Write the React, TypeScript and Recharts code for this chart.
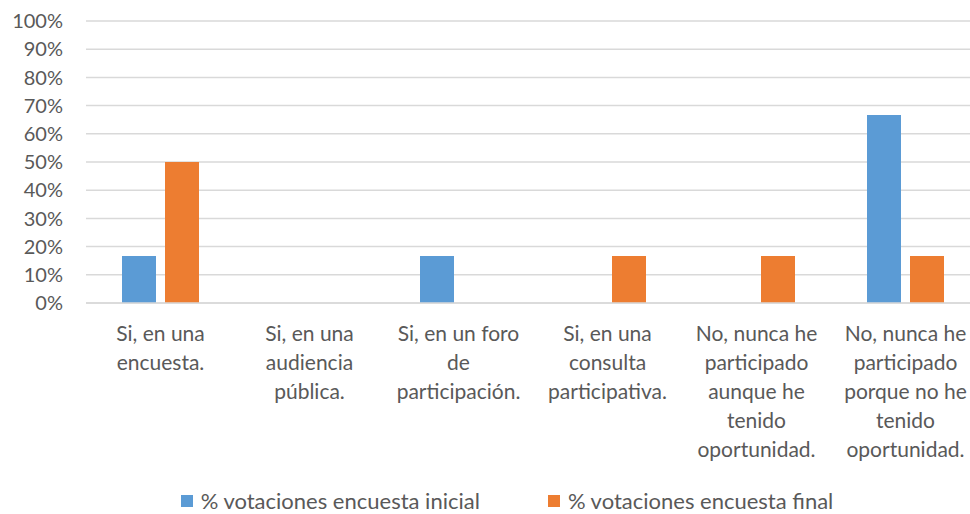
import { BarChart, Bar, XAxis, YAxis, CartesianGrid, Legend } from 'recharts'

const categories = [
  ['Si, en una', 'encuesta.'],
  ['Si, en una', 'audiencia', 'pública.'],
  ['Si, en un foro', 'de', 'participación.'],
  ['Si, en una', 'consulta', 'participativa.'],
  ['No, nunca he', 'participado', 'aunque he', 'tenido', 'oportunidad.'],
  ['No, nunca he', 'participado', 'porque no he', 'tenido', 'oportunidad.'],
]
const inicial = [16.67, 0, 16.67, 0, 0, 66.67]
const final = [50, 0, 0, 16.67, 16.67, 16.67]
const yTicks = [0, 10, 20, 30, 40, 50, 60, 70, 80, 90, 100]

const seriesNames = ['% votaciones encuesta inicial', '% votaciones encuesta final']
const colors = ['#5B9BD5', '#ED7D31']

const data = categories.map((lines, i) => ({
  name: lines.join(' '),
  inicial: inicial[i],
  final: final[i],
}))

const FONT = 'Lato, sans-serif'
const TEXT = '#595959'

function XTick({ x, y, payload, index }: any) {
  const lines = categories[index] ?? [payload.value]
  return (
    <text x={x} y={y + 30} textAnchor="middle" fill={TEXT} fontSize={21} fontFamily={FONT}>
      {lines.map((l: string, i: number) => (
        <tspan key={i} x={x} dy={i === 0 ? 0 : 29}>{l}</tspan>
      ))}
    </text>
  )
}

function LegendBox() {
  return (
    <div style={{ display: 'flex', justifyContent: 'center', gap: 68, height: 44, paddingTop: 18, boxSizing: 'border-box', fontFamily: FONT, fontSize: 22, color: TEXT, lineHeight: '22px', paddingLeft: 34 }}>
      {seriesNames.map((n, i) => (
        <div key={n} style={{ display: 'flex', alignItems: 'center' }}>
          <span style={{ width: 12, height: 12, background: colors[i], display: 'inline-block', marginRight: 8 }} />
          <span>{n}</span>
        </div>
      ))}
    </div>
  )
}

export default function App() {
  return (
    <div style={{ position: 'absolute', left: 0, top: 0, width: 970, height: 514, overflow: 'hidden', background: '#fff' }}>
      <BarChart
        width={980}
        height={514}
        data={data}
        margin={{ top: 21, right: 0, left: 0, bottom: 0 }}
        barCategoryGap="24.5%"
        barGap={9}
        style={{ fontFamily: FONT }}
      >
        <CartesianGrid vertical={false} stroke="#D9D9D9" strokeWidth={1.5} />
        <XAxis
          dataKey="name"
          height={167}
          interval={0}
          tick={<XTick />}
          tickLine={false}
          axisLine={{ stroke: '#D9D9D9', strokeWidth: 1.5 }}
        />
        <YAxis
          width={86}
          domain={[0, 100]}
          ticks={yTicks}
          interval={0}
          tickFormatter={(v: number) => `${v}%`}
          tick={{ fill: TEXT, fontSize: 20, fontFamily: FONT }}
          tickLine={false}
          axisLine={false}
          tickSize={0}
          tickMargin={23}
        />
        <Legend verticalAlign="bottom" height={44} content={<LegendBox />} />
        <Bar dataKey="inicial" name={seriesNames[0]} fill={colors[0]} barSize={34} isAnimationActive={false} />
        <Bar dataKey="final" name={seriesNames[1]} fill={colors[1]} barSize={34} isAnimationActive={false} />
      </BarChart>
    </div>
  )
}
